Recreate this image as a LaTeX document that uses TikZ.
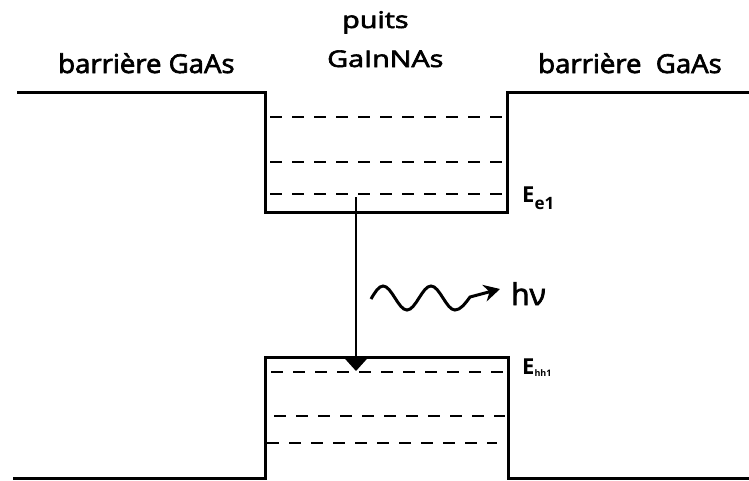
\documentclass[tikz,border=0pt]{standalone}
\usepackage{fontspec}
\setmainfont{Open Sans}
\newfontfamily\medfont{Open Sans}[FakeBold=2.5]
\usetikzlibrary{arrows.meta}
\newcommand{\hstretch}[2]{\scalebox{#1}[1]{#2}}
\begin{document}
\begin{tikzpicture}[x=1pt,y=-1pt,
  band/.style={line width=3pt, line join=miter},
  level/.style={line width=2pt, dash pattern=on 12pt off 10pt},
  lbl/.style={inner sep=0pt, anchor=base west},
  trans/.style={line width=2pt, -{Triangle[width=23pt,length=13pt]}},
  photon/.style={line width=3pt, -{Stealth[width=17pt,length=16pt]}}]
\useasboundingbox (0,0) rectangle (749,480);
% conduction band
\draw[band] (17,92) -- (265,92) -- (265,212) -- (507,212) -- (507,92) -- (749,92);
% valence band
\draw[band] (13,478) -- (265,478) -- (265,357) -- (508,357) -- (508,478) -- (749,478);
% electron levels
\draw[level] (270,117) -- (502,117);
\draw[level] (270,162) -- (502,162);
\draw[level] (270,194) -- (502,194);
% hole levels
\draw[level] (271,372) -- (503,372);
\draw[level] (274,416) -- (505,416);
\draw[level] (267,443) -- (497,443);
% texts
\node[lbl, font=\medfont\fontsize{26}{26}\selectfont] (bl) at (58,73) {\hstretch{1.06}{barrière GaAs}};
\node[lbl, font=\medfont\fontsize{26}{26}\selectfont] (br) at (538,73) {\hstretch{1.06}{barrière\ \ GaAs}};
\node[lbl, font=\medfont\fontsize{23}{23}\selectfont] (pu) at (342,28) {\hstretch{1.25}{puits}};
\node[lbl, font=\medfont\fontsize{23}{23}\selectfont] (ga) at (327,67) {\hstretch{1.25}{GaInNAs}};
\node[lbl, font=\fontsize{22}{22}\selectfont\bfseries] (ee) at (522,202) {E\raisebox{-7pt}{\fontsize{17}{17}\selectfont e1}};
\node[lbl, font=\fontsize{22}{22}\selectfont\bfseries] (eh) at (522,374) {E\raisebox{-2pt}{\fontsize{9}{9}\selectfont hh1}};
\node[lbl, font=\medfont\fontsize{30}{30}\selectfont] (hn) at (511,305) {hν};
% transition
\coordinate (top) at (356,197);
\coordinate (bot) at (356,371);
\draw[trans] (top) -- (bot);
% photon
\coordinate (w0) at (371,299);
\coordinate (w1) at (500,289);
\draw[photon] (w0) sin (383,286) cos (395,298) sin (407,310) cos (419,298)
  sin (431,286) cos (443,298) sin (455,310) cos (470,297) -- (w1);
\end{tikzpicture}
\end{document}
